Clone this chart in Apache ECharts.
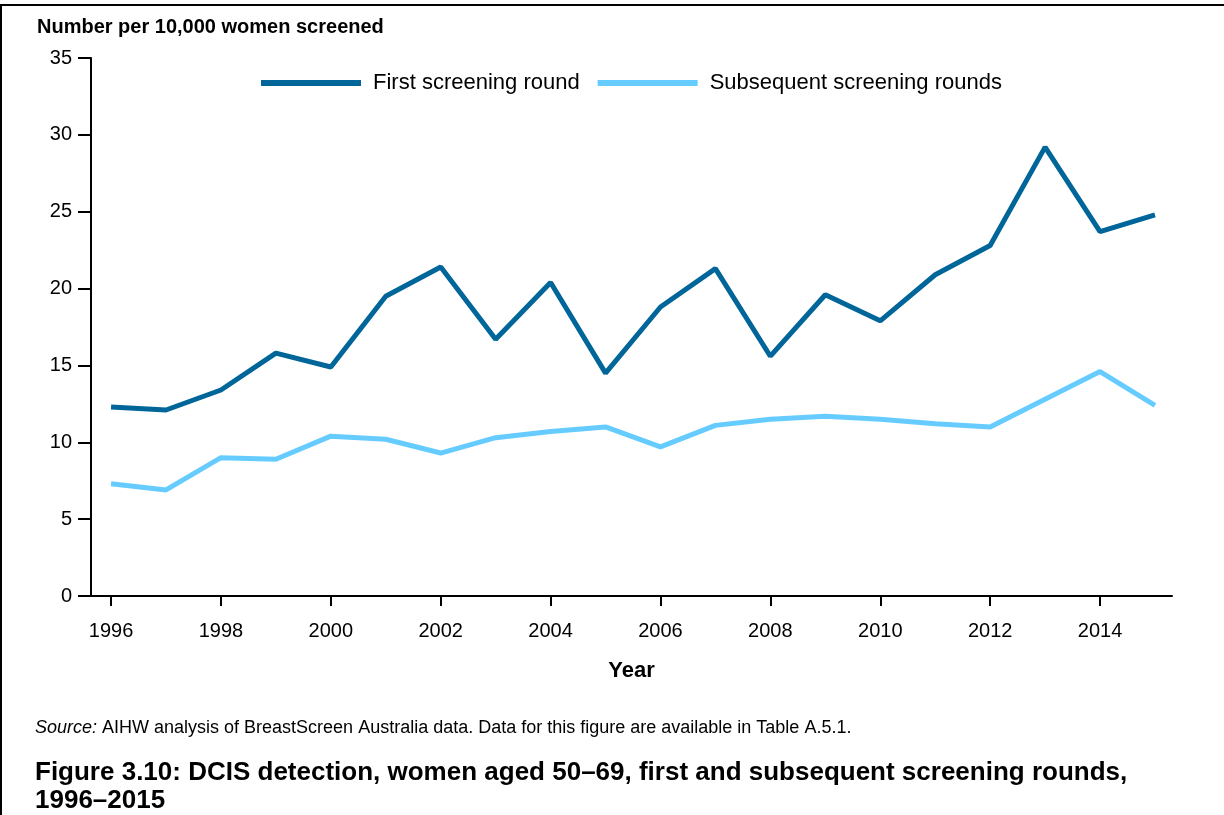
<!DOCTYPE html>
<html>
<head>
<meta charset="utf-8">
<script src="https://cdn.jsdelivr.net/npm/echarts@6/dist/echarts.min.js"></script>
<style>
html,body{margin:0;padding:0;background:#fff;overflow:hidden;}
#frame{position:absolute;left:0;top:4px;width:1300px;height:900px;border-left:2px solid #000;border-top:2px solid #000;box-sizing:border-box;}
#chart{position:absolute;left:0;top:0;width:1224px;height:815px;}
</style>
</head>
<body>
<div id="frame"></div>
<div id="chart"></div>
<script>
const years = [1996,1997,1998,1999,2000,2001,2002,2003,2004,2005,2006,2007,2008,2009,2010,2011,2012,2013,2014,2015];
const firstRound = [12.3,12.1,13.4,15.8,14.9,19.5,21.4,16.7,20.4,14.5,18.8,21.3,15.6,19.6,17.9,20.9,22.8,29.2,23.7,24.8];
const subsequentRounds = [7.3,6.9,9.0,8.9,10.4,10.2,9.3,10.3,10.7,11.0,9.7,11.1,11.5,11.7,11.5,11.2,11.0,12.8,14.6,12.4];
const xTickYears = [1996,1998,2000,2002,2004,2006,2008,2010,2012,2014];
const seriesNames = ['First screening round','Subsequent screening rounds'];
const yAxisTitle = 'Number per 10,000 women screened';
const xAxisTitle = 'Year';
const sourceText = 'AIHW analysis of BreastScreen Australia data. Data for this figure are available in Table A.5.1.';
const figureTitle = 'Figure 3.10: DCIS detection, women aged 50\u201369, first and subsequent screening rounds,\n1996\u20132015';

const FONT = '"Liberation Sans", Arial, Helvetica, sans-serif';
const chart = echarts.init(document.getElementById('chart'), null, {renderer:'canvas'});
const pair = arr => years.map((y,i)=>[y,arr[i]]);

chart.setOption({
  animation:false,
  backgroundColor:'transparent',
  textStyle:{fontFamily:FONT,color:'#000'},
  title:[
    {text:yAxisTitle,left:32,top:12,textStyle:{fontFamily:FONT,fontSize:20,fontWeight:'bold',color:'#000'}},
    {text:'{i|Source:} '+sourceText,left:30,top:714,
     textStyle:{fontFamily:FONT,fontSize:18,fontWeight:'normal',color:'#000',
       rich:{i:{fontFamily:FONT,fontSize:18,fontStyle:'italic',color:'#000'}}}},
    {text:figureTitle,left:30,top:754,textStyle:{fontFamily:FONT,fontSize:26,fontWeight:'bold',color:'#000',lineHeight:28}}
  ],
  legend:{
    left:256,top:67,
    icon:'rect',itemWidth:100,itemHeight:6,itemGap:18,
    textStyle:{fontFamily:FONT,fontSize:22,color:'#000',padding:[0,0,0,7]},
    data:seriesNames
  },
  grid:{left:91,right:52,top:58,bottom:219,containLabel:false},
  xAxis:{
    type:'value',min:1995.635,max:2015.31,
    name:xAxisTitle,nameLocation:'middle',nameGap:64,
    nameTextStyle:{fontFamily:FONT,fontSize:22,fontWeight:'bold',color:'#000'},
    axisLine:{lineStyle:{color:'#000',width:2}},
    axisTick:{show:true,length:10,lineStyle:{color:'#000',width:2},customValues:xTickYears},
    axisLabel:{fontFamily:FONT,fontSize:20,color:'#000',margin:25,customValues:xTickYears,formatter:v=>String(v)},
    splitLine:{show:false}
  },
  yAxis:{
    type:'value',min:0,max:35,interval:5,
    axisLine:{show:true,lineStyle:{color:'#000',width:2}},
    axisTick:{show:true,length:13,lineStyle:{color:'#000',width:2}},
    axisLabel:{fontFamily:FONT,fontSize:20,color:'#000',margin:19},
    splitLine:{show:false}
  },
  series:[
    {name:seriesNames[0],type:'line',data:pair(firstRound),symbol:'none',
     lineStyle:{color:'#006699',width:5},itemStyle:{color:'#006699'}},
    {name:seriesNames[1],type:'line',data:pair(subsequentRounds),symbol:'none',
     lineStyle:{color:'#66ccff',width:5},itemStyle:{color:'#66ccff'}}
  ]
});
</script>
</body>
</html>
